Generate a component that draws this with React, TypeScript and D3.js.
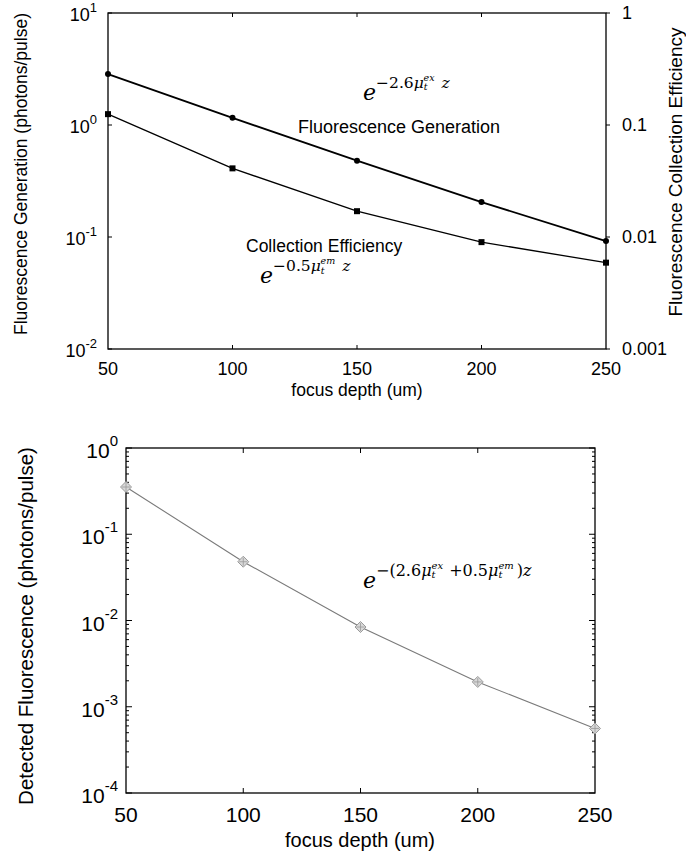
import React from 'react';
import * as d3 from 'd3';

// ---------- data ----------
const depths = [50, 100, 150, 200, 250];
const generation = [2.85, 1.16, 0.48, 0.205, 0.092]; // photons/pulse (left axis)
const collection = [0.125, 0.041, 0.017, 0.009, 0.0059]; // efficiency (right axis)
const detected = [0.353, 0.048, 0.0084, 0.00194, 0.00056]; // photons/pulse
const xTicks = [50, 100, 150, 200, 250];
const topLeftExps = [1, 0, -1, -2];
const topRightTicks = [1, 0.1, 0.01, 0.001];
const topRightLabels = ['1', '0.1', '0.01', '0.001'];
const bottomExps = [0, -1, -2, -3, -4];

const SANS = '"Liberation Sans", Arial, Helvetica, sans-serif';
const SERIF = '"DejaVu Serif", "Liberation Serif", serif';

function supLabel(exp: number) {
  return exp < 0 ? '-' + Math.abs(exp) : String(exp);
}

function TopChart() {
  const L = 108, R = 606, T = 13, B = 349;
  const x = d3.scaleLinear().domain([50, 250]).range([L, R]);
  const yL = d3.scaleLog().domain([0.01, 10]).range([B, T]);
  const yR = d3.scaleLog().domain([0.001, 1]).range([B, T]);
  const lineG = d3.line<number>().x((_, i) => x(depths[i])).y((d) => yL(d));
  const lineC = d3.line<number>().x((_, i) => x(depths[i])).y((d) => yR(d));
  return (
    <g>
      <rect x={L} y={T} width={R - L} height={B - T} fill="none" stroke="#000" strokeWidth={1.3} />
      {xTicks.slice(1, -1).map((t) => (
        <g key={'xt' + t}>
          <line x1={x(t)} x2={x(t)} y1={B} y2={B - 4} stroke="#000" strokeWidth={1} />
          <line x1={x(t)} x2={x(t)} y1={T} y2={T + 4} stroke="#000" strokeWidth={1} />
        </g>
      ))}
      {xTicks.map((t) => (
        <text key={'xl' + t} x={x(t)} y={375} textAnchor="middle" fontFamily={SANS} fontSize={18}>
          {t}
        </text>
      ))}
      {topLeftExps.map((e) => {
        const yy = yL(Math.pow(10, e));
        return (
          <g key={'yl' + e}>
            <line x1={L} x2={L + 4} y1={yy} y2={yy} stroke="#000" strokeWidth={1} />
            <text x={97} y={yy + 8} textAnchor="end" fontFamily={SANS} fontSize={18}>
              10
              <tspan fontSize={13} dy={-9}>{supLabel(e)}</tspan>
            </text>
          </g>
        );
      })}
      {topRightTicks.map((v, i) => {
        const yy = yR(v);
        return (
          <g key={'yr' + i}>
            <line x1={R} x2={R + 4} y1={yy} y2={yy} stroke="#000" strokeWidth={1} />
            <text x={622} y={yy + 6} textAnchor="start" fontFamily={SANS} fontSize={18}>
              {topRightLabels[i]}
            </text>
          </g>
        );
      })}
      <path d={lineG(generation) || ''} fill="none" stroke="#000" strokeWidth={1.9} />
      <path d={lineC(collection) || ''} fill="none" stroke="#000" strokeWidth={1.3} />
      {generation.map((v, i) => (
        <circle key={'g' + i} cx={x(depths[i])} cy={yL(v)} r={3} fill="#000" />
      ))}
      {collection.map((v, i) => (
        <rect key={'c' + i} x={x(depths[i]) - 3} y={yR(v) - 3} width={6} height={6} fill="#000" />
      ))}
      <text x={357} y={396} textAnchor="middle" fontFamily={SANS} fontSize={17.5}>
        focus depth (um)
      </text>
      <text transform="translate(27,174) rotate(-90)" textAnchor="middle" fontFamily={SANS} fontSize={17.5}>
        Fluorescence Generation (photons/pulse)
      </text>
      <text transform="translate(682,172) rotate(-90)" textAnchor="middle" fontFamily={SANS} fontSize={19}>
        Fluorescence Collection Efficiency
      </text>
      <text x={298} y={133} fontFamily={SANS} fontSize={18}>
        Fluorescence Generation
      </text>
      <text x={246} y={252} fontFamily={SANS} fontSize={17.5}>
        Collection Efficiency
      </text>
      {/* e^{-2.6 mu_t^{ex} z} */}
      <text x={363} y={100} fontFamily={SERIF}>
        <tspan fontSize={22} fontStyle="italic">e</tspan>
        <tspan fontSize={15.5} dy={-12}>−2.6</tspan>
        <tspan fontSize={15.5} fontStyle="italic">μ</tspan>
        <tspan fontSize={9.5} fontStyle="italic" dy={2}>t</tspan>
        <tspan fontSize={9.5} fontStyle="italic" dx={-4} dy={-9}>ex</tspan>
        <tspan fontSize={15.5} fontStyle="italic" dx={7} dy={7}>z</tspan>
      </text>
      {/* e^{-0.5 mu_t^{em} z} */}
      <text x={260} y={283} fontFamily={SERIF}>
        <tspan fontSize={22} fontStyle="italic">e</tspan>
        <tspan fontSize={15.5} dy={-12}>−0.5</tspan>
        <tspan fontSize={15.5} fontStyle="italic">μ</tspan>
        <tspan fontSize={9.5} fontStyle="italic" dy={3}>t</tspan>
        <tspan fontSize={9.5} fontStyle="italic" dx={-4} dy={-10}>em</tspan>
        <tspan fontSize={15.5} fontStyle="italic" dx={7} dy={7}>z</tspan>
      </text>
    </g>
  );
}

function Marker({ cx, cy }: { cx: number; cy: number }) {
  const s = 5.5;
  return (
    <g>
      <path
        d={`M${cx},${cy - s}L${cx + s},${cy}L${cx},${cy + s}L${cx - s},${cy}Z`}
        fill="#d8d8d8"
        stroke="#9a9a9a"
        strokeWidth={1}
      />
      <line x1={cx - s + 1.5} x2={cx + s - 1.5} y1={cy} y2={cy} stroke="#999" strokeWidth={0.8} />
      <line x1={cx} x2={cx} y1={cy - s + 1.5} y2={cy + s - 1.5} stroke="#999" strokeWidth={0.8} />
    </g>
  );
}

function BottomChart() {
  const L = 126, R = 595, T = 448, B = 793;
  const x = d3.scaleLinear().domain([50, 250]).range([L, R]);
  const y = d3.scaleLog().domain([1e-4, 1]).range([B, T]);
  const line = d3.line<number>().x((_, i) => x(depths[i])).y((d) => y(d));
  const minor: number[] = [];
  for (let e = -4; e < 0; e++) {
    for (let m = 2; m <= 9; m++) minor.push(m * Math.pow(10, e));
  }
  return (
    <g>
      <rect x={L} y={T} width={R - L} height={B - T} fill="none" stroke="#000" strokeWidth={1.3} />
      {xTicks.slice(1, -1).map((t) => (
        <g key={'bxt' + t}>
          <line x1={x(t)} x2={x(t)} y1={B} y2={B - 5} stroke="#000" strokeWidth={1} />
          <line x1={x(t)} x2={x(t)} y1={T} y2={T + 5} stroke="#000" strokeWidth={1} />
        </g>
      ))}
      {minor.map((v, i) => (
        <g key={'mn' + i}>
          <line x1={L} x2={L + 3} y1={y(v)} y2={y(v)} stroke="#000" strokeWidth={1} />
          <line x1={R} x2={R - 3} y1={y(v)} y2={y(v)} stroke="#000" strokeWidth={1} />
        </g>
      ))}
      {bottomExps.map((e) => {
        const yy = y(Math.pow(10, e));
        return (
          <g key={'by' + e}>
            <line x1={L} x2={L + 6} y1={yy} y2={yy} stroke="#000" strokeWidth={1} />
            <line x1={R} x2={R - 6} y1={yy} y2={yy} stroke="#000" strokeWidth={1} />
            <text x={118} y={yy + 10} textAnchor="end" fontFamily={SANS} fontSize={21}>
              10
              <tspan fontSize={15} dy={-12}>{supLabel(e)}</tspan>
            </text>
          </g>
        );
      })}
      {xTicks.map((t) => (
        <text key={'bxl' + t} x={x(t)} y={822} textAnchor="middle" fontFamily={SANS} fontSize={21}>
          {t}
        </text>
      ))}
      <path d={line(detected) || ''} fill="none" stroke="#7a7a7a" strokeWidth={1.1} />
      {detected.map((v, i) => (
        <Marker key={'d' + i} cx={x(depths[i])} cy={y(v)} />
      ))}
      <text x={360} y={847} textAnchor="middle" fontFamily={SANS} fontSize={20}>
        focus depth (um)
      </text>
      <text transform="translate(33,626) rotate(-90)" textAnchor="middle" fontFamily={SANS} fontSize={20.5}>
        Detected Fluorescence (photons/pulse)
      </text>
      {/* e^{-(2.6 mu_t^{ex} + 0.5 mu_t^{em}) z} */}
      <text x={363} y={588} fontFamily={SERIF}>
        <tspan fontSize={22} fontStyle="italic">e</tspan>
        <tspan fontSize={16} dy={-12}>−(2.6</tspan>
        <tspan fontSize={16} fontStyle="italic">μ</tspan>
        <tspan fontSize={10} fontStyle="italic" dy={2}>t</tspan>
        <tspan fontSize={10} fontStyle="italic" dx={-4} dy={-9}>ex</tspan>
        <tspan fontSize={16} dx={6} dy={7}>+0.5</tspan>
        <tspan fontSize={16} fontStyle="italic">μ</tspan>
        <tspan fontSize={10} fontStyle="italic" dy={2}>t</tspan>
        <tspan fontSize={10} fontStyle="italic" dx={-4} dy={-9}>em</tspan>
        <tspan fontSize={16} dx={3} dy={7}>)</tspan>
        <tspan fontSize={16} fontStyle="italic">z</tspan>
      </text>
    </g>
  );
}

export default function App() {
  return (
    <svg
      width={686}
      height={862}
      viewBox="0 0 686 862"
      style={{ position: 'absolute', left: 0, top: 0, background: '#fff' }}
    >
      <rect x={0} y={0} width={686} height={862} fill="#fff" />
      <TopChart />
      <BottomChart />
    </svg>
  );
}
